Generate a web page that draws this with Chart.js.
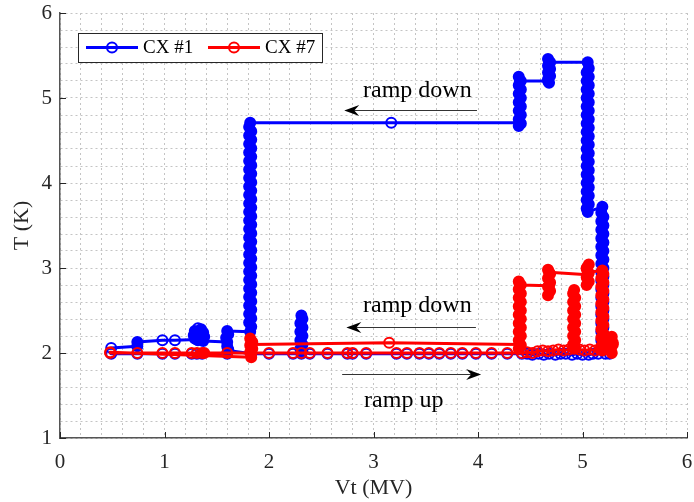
<!DOCTYPE html>
<html lang="en">
<head>
<meta charset="UTF-8">
<title>CX temperature vs Vt</title>
<script src="https://cdn.jsdelivr.net/npm/chart.js"></script>
<style>
  html, body { margin: 0; padding: 0; background: #fff; }
  #wrap { width: 694px; height: 502px; }
</style>
</head>
<body>
<div id="wrap"><canvas id="chart"></canvas></div>
<script>
// [Vt (MV), T (K)] in time order
const cx1RampUp = [
  [0.49,1.99],[0.74,1.99],[0.98,1.99],[1.10,1.99],[1.26,1.99],[1.31,1.99],[1.36,1.99],
  [1.60,1.99],[1.61,2.04],[1.60,2.08],[1.61,2.03],[1.83,1.99],[2.00,1.99],[2.23,1.99],
  [2.31,1.99],[2.30,2.05],[2.32,2.10],[2.30,2.15],[2.32,2.20],[2.30,2.25],[2.32,2.30],
  [2.30,2.35],[2.32,2.40],[2.31,2.44],[2.32,2.02],
  [2.39,1.99],[2.56,1.99],[2.75,1.99],[2.80,1.99],[2.93,1.99],[3.22,1.99],[3.32,1.99],
  [3.44,1.99],[3.53,1.99],[3.63,1.99],[3.74,1.99],[3.85,1.99],[3.98,1.99],[4.13,1.99],
  [4.28,1.99],[4.42,1.99],[4.47,1.99],[4.52,1.98],[4.58,1.99],[4.63,1.98],[4.68,1.99],
  [4.74,1.98],[4.79,1.99],[4.84,1.99],[4.90,1.98],[4.95,1.99],[5.00,1.98],[5.06,1.98],
  [5.10,1.99],[5.15,1.99],[5.22,1.99],[5.26,1.99],
  [5.18,2.05],[5.20,2.10],[5.18,2.15],[5.20,2.20],[5.18,2.25],[5.20,2.30],[5.18,2.35],
  [5.20,2.40],[5.18,2.45],[5.20,2.50],[5.18,2.55],[5.20,2.60],[5.18,2.65],[5.20,2.70],
  [5.18,2.75],[5.20,2.80],[5.18,2.85],[5.20,2.90],[5.18,2.95],[5.20,3.00],[5.18,3.05],
  [5.20,3.10],[5.18,3.15],[5.20,3.20],[5.18,3.25],[5.20,3.30],[5.18,3.35],[5.20,3.40],
  [5.18,3.45],[5.20,3.50],[5.18,3.55],[5.20,3.60],[5.18,3.65],[5.19,3.72]
];
const cx1RampDown = [
  [5.05,3.66],[5.04,3.70],[5.06,3.75],[5.04,3.80],[5.06,3.85],[5.04,3.90],[5.06,3.95],
  [5.04,4.00],[5.06,4.05],[5.04,4.10],[5.06,4.15],[5.04,4.20],[5.06,4.25],[5.04,4.30],
  [5.06,4.35],[5.04,4.40],[5.06,4.45],[5.04,4.50],[5.06,4.55],[5.04,4.60],[5.06,4.65],
  [5.04,4.70],[5.06,4.75],[5.04,4.80],[5.06,4.85],[5.04,4.90],[5.06,4.95],[5.04,5.00],
  [5.06,5.05],[5.04,5.10],[5.06,5.15],[5.04,5.20],[5.06,5.25],[5.04,5.30],[5.06,5.35],
  [5.05,5.42],
  [4.68,5.42],[4.67,5.46],[4.69,5.42],[4.67,5.38],[4.69,5.34],[4.67,5.30],[4.69,5.26],
  [4.67,5.22],[4.68,5.18],[4.67,5.20],
  [4.40,5.20],[4.39,5.25],[4.41,5.20],[4.39,5.15],[4.41,5.10],[4.39,5.05],[4.41,5.00],
  [4.39,4.95],[4.41,4.90],[4.39,4.85],[4.41,4.80],[4.39,4.75],[4.41,4.70],[4.39,4.67],
  [4.40,4.71],
  [3.17,4.71],
  [1.82,4.71],[1.81,4.66],[1.83,4.61],[1.81,4.56],[1.83,4.51],[1.81,4.46],[1.83,4.41],
  [1.81,4.36],[1.83,4.31],[1.81,4.26],[1.83,4.21],[1.81,4.16],[1.83,4.11],[1.81,4.06],
  [1.83,4.01],[1.81,3.96],[1.83,3.91],[1.81,3.86],[1.83,3.81],[1.81,3.76],[1.83,3.71],
  [1.81,3.66],[1.83,3.61],[1.81,3.56],[1.83,3.51],[1.81,3.46],[1.83,3.41],[1.81,3.36],
  [1.83,3.31],[1.81,3.26],[1.83,3.21],[1.81,3.16],[1.83,3.11],[1.81,3.06],[1.83,3.01],
  [1.81,2.96],[1.83,2.91],[1.81,2.86],[1.83,2.81],[1.81,2.76],[1.83,2.71],[1.81,2.66],
  [1.83,2.61],[1.81,2.56],[1.83,2.51],[1.81,2.46],[1.83,2.41],[1.81,2.36],[1.83,2.31],
  [1.82,2.25],
  [1.60,2.26],[1.61,2.22],[1.59,2.18],[1.60,2.13],
  [1.37,2.14],[1.38,2.19],[1.37,2.24],[1.35,2.28],[1.32,2.29],[1.29,2.26],[1.28,2.21],
  [1.29,2.17],[1.32,2.15],[1.35,2.19],[1.33,2.23],[1.31,2.16],
  [1.10,2.15],[0.98,2.15],[0.74,2.13],[0.74,2.08],[0.49,2.06]
];
const cx7RampUp = [
  [0.48,2.00],[0.74,2.00],[0.98,2.00],[1.10,2.00],[1.26,2.00],[1.31,2.00],[1.36,2.00],
  [1.38,2.00],[1.60,2.00],[1.83,2.00],[2.00,2.00],[2.23,2.00],[2.31,2.00],[2.39,2.00],
  [2.56,2.00],[2.75,2.00],[2.80,2.00],[2.93,2.00],[3.22,2.00],[3.32,2.00],[3.44,2.00],
  [3.53,2.00],[3.63,2.00],[3.74,2.00],[3.85,2.00],[3.98,2.00],[4.13,2.00],[4.28,2.00],
  [4.42,2.00],[4.47,2.01],[4.52,2.00],[4.57,2.02],[4.62,2.03],[4.67,2.02],[4.72,2.03],
  [4.77,2.04],[4.82,2.03],[4.87,2.04],
  [4.92,2.05],[4.91,2.10],[4.93,2.15],[4.91,2.20],[4.93,2.25],[4.91,2.30],[4.93,2.35],
  [4.91,2.40],[4.93,2.45],[4.91,2.50],[4.93,2.55],[4.91,2.60],[4.93,2.65],[4.91,2.70],
  [4.92,2.74],[4.93,2.06],
  [4.97,2.04],[5.02,2.03],[5.07,2.04],[5.12,2.03],[5.17,2.04],[5.22,2.05],
  [5.28,2.00],[5.27,2.05],[5.29,2.10],[5.27,2.15],[5.28,2.19],[5.29,2.12],[5.27,2.06],
  [5.19,2.03],[5.18,2.08],[5.20,2.13],[5.18,2.18],[5.20,2.23],[5.18,2.28],[5.20,2.33],
  [5.18,2.38],[5.20,2.43],[5.18,2.48],[5.20,2.53],[5.18,2.58],[5.20,2.63],[5.18,2.68],
  [5.20,2.73],[5.18,2.78],[5.20,2.83],[5.18,2.88],[5.20,2.93],[5.19,2.97]
];
const cx7RampDown = [
  [5.05,2.95],[5.04,3.00],[5.06,3.04],[5.04,2.99],[5.06,2.94],[5.04,2.89],[5.06,2.84],
  [5.04,2.80],[5.05,2.92],
  [4.68,2.95],[4.67,2.98],[4.69,2.93],[4.67,2.88],[4.69,2.83],[4.67,2.78],[4.69,2.73],
  [4.67,2.68],[4.68,2.79],
  [4.40,2.80],[4.39,2.84],[4.41,2.80],[4.39,2.75],[4.41,2.70],[4.39,2.65],[4.41,2.60],
  [4.39,2.55],[4.41,2.50],[4.39,2.45],[4.41,2.40],[4.39,2.35],[4.41,2.30],[4.39,2.25],
  [4.41,2.20],[4.39,2.15],[4.41,2.09],[4.39,2.05],[4.40,2.10],
  [3.15,2.12],
  [1.83,2.10],[1.82,2.17],[1.84,2.13],[1.82,2.09],[1.84,2.05],[1.82,2.01],[1.83,1.95],
  [0.48,2.01]
];
const xTickLabels = ['0','1','2','3','4','5','6'];
const yTickLabels = ['1','2','3','4','5','6'];

const SERIF = '"Liberation Serif", "Times New Roman", serif';
const INK = '#262626';

// arrows and captions, in data units
const notes = [
  { text: 'ramp down', tx: 2.90, ty: 5.01, x1: 3.99, x2: 2.72, ay: 4.86 },
  { text: 'ramp down', tx: 2.90, ty: 2.48, x1: 3.98, x2: 2.74, ay: 2.31 },
  { text: 'ramp up',   tx: 2.91, ty: 1.37, x1: 2.70, x2: 4.03, ay: 1.75 }
];

const toPoints = arr => arr.map(([x, y]) => ({ x, y }));

// stacked points (same Vt held) merge into a solid band, lone points stay open
function markerFill(color) {
  return ctx => {
    const d = ctx.dataset.data, i = ctx.dataIndex, p = d[i];
    if (!p) return 'rgba(0,0,0,0)';
    const near = [d[i - 1], d[i + 1]].some(q => q && Math.abs(q.x - p.x) < 0.025);
    return near ? color : 'rgba(0,0,0,0)';
  };
}

function series(label, color, pts, order) {
  return {
    label, data: pts, order,
    showLine: true,
    borderColor: color, borderWidth: 3,
    borderJoinStyle: 'round', borderCapStyle: 'round',
    pointRadius: 5, pointHoverRadius: 5, pointBorderWidth: 2,
    pointBorderColor: color,
    pointBackgroundColor: markerFill(color),
    tension: 0
  };
}

const extras = {
  id: 'extras',
  afterDraw(chart) {
    const { ctx, chartArea: a, scales: { x, y } } = chart;
    ctx.save();
    // inward major ticks
    ctx.strokeStyle = INK; ctx.lineWidth = 1;
    xTickLabels.forEach(t => {
      const px = Math.round(x.getPixelForValue(+t)) + 0.5;
      ctx.beginPath(); ctx.moveTo(px, a.bottom); ctx.lineTo(px, a.bottom - 6); ctx.stroke();
    });
    yTickLabels.forEach(t => {
      const py = Math.round(y.getPixelForValue(+t)) + 0.5;
      ctx.beginPath(); ctx.moveTo(a.left, py); ctx.lineTo(a.left + 6, py); ctx.stroke();
    });

    // annotations
    notes.forEach(n => {
      const ax1 = x.getPixelForValue(n.x1), ax2 = x.getPixelForValue(n.x2);
      const ay = Math.round(y.getPixelForValue(n.ay)) + 0.5;
      const dir = Math.sign(ax2 - ax1);
      ctx.strokeStyle = '#333'; ctx.lineWidth = 1;
      ctx.beginPath(); ctx.moveTo(ax1, ay); ctx.lineTo(ax2 - dir * 8, ay); ctx.stroke();
      ctx.fillStyle = '#000';
      ctx.beginPath();
      ctx.moveTo(ax2, ay);
      ctx.lineTo(ax2 - dir * 15, ay - 5.5);
      ctx.lineTo(ax2 - dir * 10, ay);
      ctx.lineTo(ax2 - dir * 15, ay + 5.5);
      ctx.closePath(); ctx.fill();
      ctx.font = '24px ' + SERIF;
      ctx.textBaseline = 'alphabetic'; ctx.textAlign = 'left';
      ctx.fillText(n.text, x.getPixelForValue(n.tx), y.getPixelForValue(n.ty));
    });

    // legend box
    ctx.fillStyle = '#fff';
    ctx.fillRect(78.5, 33.5, 244, 29);
    ctx.strokeStyle = INK; ctx.lineWidth = 1;
    ctx.strokeRect(78.5, 33.5, 244, 29);
    ctx.font = '19px ' + SERIF;
    ctx.textBaseline = 'middle';
    chart.data.datasets.forEach((ds, i) => {
      const x0 = 86 + i * 122, cy = 47.5;
      ctx.strokeStyle = ds.borderColor; ctx.lineWidth = 3;
      ctx.beginPath(); ctx.moveTo(x0, cy); ctx.lineTo(x0 + 52, cy); ctx.stroke();
      ctx.lineWidth = 2;
      ctx.beginPath(); ctx.arc(x0 + 26, cy, 5, 0, Math.PI * 2); ctx.stroke();
      ctx.fillStyle = '#000';
      ctx.fillText(ds.label, x0 + 57, cy + 1);
    });
    ctx.restore();
  }
};

const axisCommon = {
  type: 'linear',
  grid: { color: '#c4c4c4', lineWidth: 1, drawTicks: false },
  border: { display: true, color: '#555', width: 1.5, dash: [2, 3] },
  title: { display: true, color: INK, font: { family: SERIF, size: 22 } },
  ticks: {
    stepSize: 0.2, autoSkip: false, maxRotation: 0, color: INK,
    callback: v => Math.abs(v - Math.round(v)) < 1e-6 ? String(Math.round(v)) : ''
  }
};

new Chart(document.getElementById('chart'), {
  type: 'scatter',
  data: {
    datasets: [
      series('CX #1', '#0000ff', toPoints(cx1RampUp.concat(cx1RampDown)), 2),
      series('CX #7', '#ff0000', toPoints(cx7RampUp.concat(cx7RampDown)), 1)
    ]
  },
  options: {
    responsive: true,
    maintainAspectRatio: false,
    animation: false,
    layout: { padding: { top: 13, right: 6, left: 0, bottom: 0 } },
    plugins: { legend: { display: false }, tooltip: { enabled: false } },
    scales: {
      x: {
        ...axisCommon, min: 0, max: 6,
        // tall line box pushes the labels down without widening the edge padding
        ticks: { ...axisCommon.ticks, padding: 0, font: { family: SERIF, size: 21, lineHeight: 2.34 } },
        title: { ...axisCommon.title, text: 'Vt (MV)', padding: { top: 0, bottom: 1 } },
        afterFit: s => { s.height = 64; }
      },
      y: {
        ...axisCommon, min: 1, max: 6,
        ticks: { ...axisCommon.ticks, padding: 8, font: { family: SERIF, size: 21, lineHeight: 0.4 } },
        title: { ...axisCommon.title, text: 'T (K)', padding: { top: 9, bottom: 0 } },
        afterFit: s => { s.width = 60; }
      }
    }
  },
  plugins: [extras]
});
</script>
</body>
</html>
